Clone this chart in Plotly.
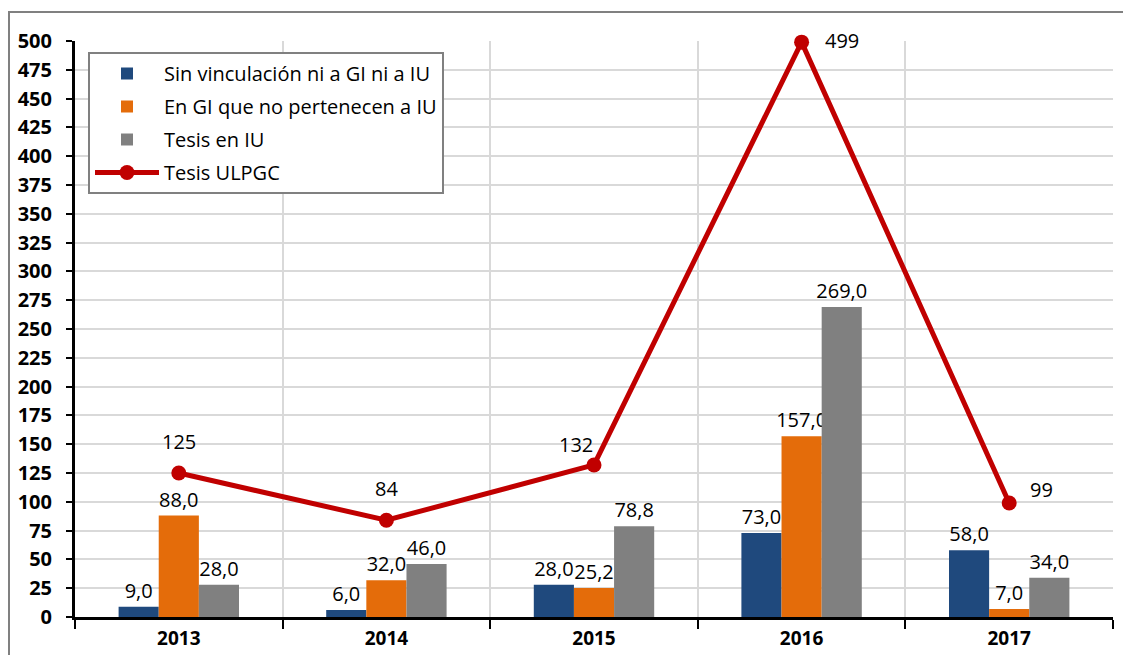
import plotly.graph_objects as go

years = ["2013", "2014", "2015", "2016", "2017"]
sin_vinc = [9.0, 6.0, 28.0, 73.0, 58.0]
en_gi = [88.0, 32.0, 25.2, 157.0, 7.0]
tesis_iu = [28.0, 46.0, 78.8, 269.0, 34.0]
tesis_ulpgc = [125, 84, 132, 499, 99]

names = ["Sin vinculación ni a GI ni a IU", "En GI que no pertenecen a IU", "Tesis en IU", "Tesis ULPGC"]
colors = ["#1F497D", "#E46C0A", "#808080", "#C00000"]

FONT = "Open Sans"

fig = go.Figure()
for i, vals in enumerate([sin_vinc, en_gi, tesis_iu]):
    fig.add_trace(go.Bar(
        x=years, y=vals, name=names[i], marker=dict(color=colors[i], line=dict(width=0)),
        texttemplate="%{y:.1f}", textposition="outside", cliponaxis=False,
        constraintext="none", textangle=0,
        textfont=dict(family=FONT, size=20, color="#000000"),
        legendgroup=f"g{i}",
    ))

fig.add_trace(go.Scatter(
    x=years, y=tesis_ulpgc, name=names[3], mode="lines+markers",
    line=dict(color=colors[3], width=5), marker=dict(size=15, color=colors[3]),
    cliponaxis=False, legendgroup="g3",
))

# line labels (x given as category index)
offsets = [(0, 32), (0, 32), (-18, 20), (40, 2), (32, 13)]
for idx, (v, (dx, dy)) in enumerate(zip(tesis_ulpgc, offsets)):
    fig.add_annotation(x=idx, y=v, xref="x", yref="y", text=str(v), showarrow=False,
                       xshift=dx, yshift=dy,
                       font=dict(family=FONT, size=20, color="#000000"))

# page offset of 8px (body margin) taken into account
OFF = 8
L, R, T, B = 75 - OFF, 18 + OFF, 41 - OFF, 38 + OFF
W, H = 1131, 655
pw, ph = W - L - R, H - T - B
# outer chart border (figure pixel coords converted to paper coords)
bx0, by0 = 0, 12 - OFF
fig.add_shape(type="rect", xref="paper", yref="paper",
              x0=(bx0 + 1 - L) / pw, x1=(W + 20 - L) / pw,
              y0=-(H + 20 - (H - B)) / ph, y1=(H - B - by0) / ph,
              line=dict(color="#808080", width=2), fillcolor="rgba(0,0,0,0)", layer="below")

fig.update_layout(
    width=W, height=H, margin=dict(l=L, r=R, t=T, b=B, autoexpand=False),
    paper_bgcolor="white", plot_bgcolor="white",
    separators=",.",
    barmode="group", bargap=0.42, bargroupgap=0,
    font=dict(family=FONT, color="#000000"),
    showlegend=True,
    legend=dict(x=(88 - 75) / pw, y=(617 - 52) / ph, xanchor="left", yanchor="top",
                bgcolor="white", bordercolor="#808080", borderwidth=2,
                font=dict(family=FONT, size=20, color="#000000"),
                tracegroupgap=4, itemwidth=64),
    xaxis=dict(type="category", tickson="boundaries", showgrid=True, gridcolor="#D9D9D9", gridwidth=2,
               showline=True, linecolor="#000000", linewidth=3, ticks="outside", ticklen=9,
               tickwidth=2, tickcolor="#000000", automargin=False, ticklabelstandoff=2,
               tickfont=dict(family=FONT, size=19, color="#000000", weight="bold"),
               range=[-0.5, 4.5]),
    yaxis=dict(range=[0, 500], dtick=25, showgrid=True, gridcolor="#D9D9D9", gridwidth=2,
               showline=True, linecolor="#000000", linewidth=3, ticks="outside", ticklen=6,
               tickwidth=2, tickcolor="#000000", zeroline=False, automargin=False,
               ticklabelstandoff=10,
               tickfont=dict(family=FONT, size=20, color="#000000", weight="bold")),
)

fig.write_html("out.html")
